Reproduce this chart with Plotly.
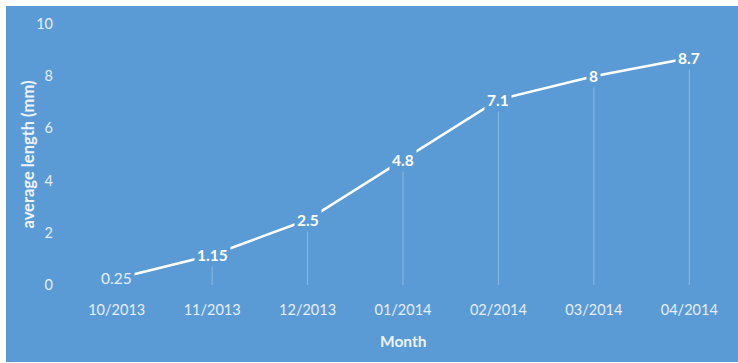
import plotly.graph_objects as go

months = ["10/2013", "11/2013", "12/2013", "01/2014", "02/2014", "03/2014", "04/2014"]
lengths = [0.25, 1.15, 2.5, 4.8, 7.1, 8, 8.7]
label_texts = ["0.25", "1.15", "2.5", "4.8", "7.1", "8", "8.7"]
y_ticks = [0, 2, 4, 6, 8, 10]

BG = "#5B9BD5"
FONT = "Lato"

fig = go.Figure()
fig.add_trace(go.Scatter(
    x=months, y=lengths, mode="lines",
    line=dict(color="white", width=2.5),
    error_y=dict(type="data", symmetric=False, array=[0] * len(lengths),
                 arrayminus=lengths, color="rgba(255,255,255,0.3)",
                 thickness=1, width=0),
    hoverinfo="skip", showlegend=False,
))

annotations = []
for i, (m, v, t) in enumerate(zip(months, lengths, label_texts)):
    annotations.append(dict(
        x=m, y=v, xref="x", yref="y", text=(t if i == 0 else "<b>%s</b>" % t),
        showarrow=False, bgcolor=BG, borderpad=2,
        font=dict(family=FONT, size=15.5, color="#ffffff" if i else "#e6eef8"),
    ))

annotations.append(dict(
    x=0.5, y=0, xref="paper", yref="paper", yshift=-56, text="<b>Month</b>",
    showarrow=False, font=dict(family=FONT, size=15.5, color="#eef3fa"),
    xanchor="center", yanchor="middle",
))
annotations.append(dict(
    x=0, y=0.5, xref="paper", yref="paper", xshift=-42, text="<b>average length (mm)</b>",
    showarrow=False, textangle=-90, font=dict(family=FONT, size=16.5, color="#eef3fa"),
    xanchor="center", yanchor="middle",
))

fig.update_layout(
    width=738, height=363,
    margin=dict(l=69, r=1, t=24, b=78),
    paper_bgcolor="white", plot_bgcolor=BG,
    font=dict(family=FONT, size=14, color="#e6eef8"),
    annotations=annotations,
    shapes=[dict(type="rect", xref="paper", yref="paper", layer="below",
                 x0=-63 / 668, x1=1.01, y0=-77 / 261, y1=1 + 18 / 261,
                 fillcolor=BG, line=dict(width=0))],
    xaxis=dict(type="category", range=[-0.5, 6.5], showgrid=False, zeroline=False,
               showline=False, ticks="", ticklabelstandoff=14,
               tickfont=dict(family=FONT, size=14.5, color="#e6eef8")),
    yaxis=dict(range=[0, 10], tickvals=y_ticks, showgrid=False, zeroline=False,
               showline=False, ticks="", ticklabelstandoff=15,
               tickfont=dict(family=FONT, size=14.5, color="#e6eef8")),
)

fig.write_html("out.html")
